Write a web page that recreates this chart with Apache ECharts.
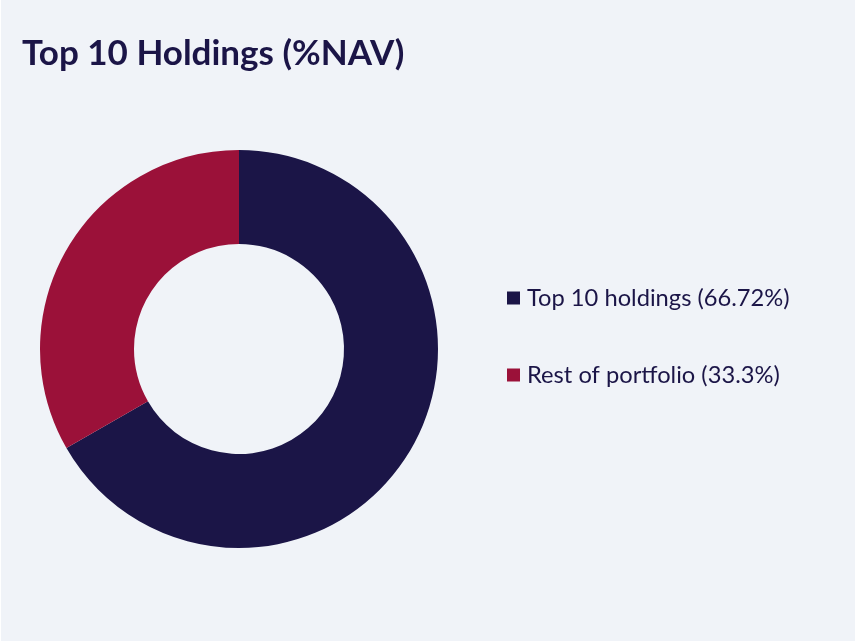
<!DOCTYPE html>
<html><head><meta charset="utf-8">
<script src="https://cdn.jsdelivr.net/npm/echarts@6/dist/echarts.min.js"></script>
<style>html,body{margin:0;padding:0;background:#fff}#c{width:855px;height:642px;box-sizing:border-box;border-left:1px solid #fff;border-bottom:1px solid #fff}</style>
</head><body><div id="c"></div>
<script>
const categories = ['Top 10 holdings (66.72%)', 'Rest of portfolio (33.3%)'];
const values = [66.72, 33.3];
const colors = ['#1b1547', '#9b1139'];

const chart = echarts.init(document.getElementById('c'));
chart.setOption({
  backgroundColor: '#f0f3f8',
  animation: false,
  title: {
    text: 'Top 10 Holdings (%NAV)', left: 16, top: 31,
    textStyle: { fontFamily: 'Lato', fontWeight: 'bold', fontSize: 35, color: '#1b1547' }
  },
  legend: {
    orient: 'vertical', left: 501, top: 281, itemWidth: 13, itemHeight: 13, itemGap: 53,
    icon: 'rect', selectedMode: false,
    textStyle: { fontFamily: 'Lato', fontSize: 23.7, lineHeight: 24, color: '#1b1547', padding: [0, 0, 0, 2] },
    data: categories
  },
  series: [{
    type: 'pie', center: [238, 349], radius: [105, 199], startAngle: 90, clockwise: true,
    label: { show: false }, labelLine: { show: false }, silent: true,
    itemStyle: { borderWidth: 0 },
    data: categories.map((n, i) => ({ name: n, value: values[i], itemStyle: { color: colors[i] } }))
  }]
});
</script></body></html>
